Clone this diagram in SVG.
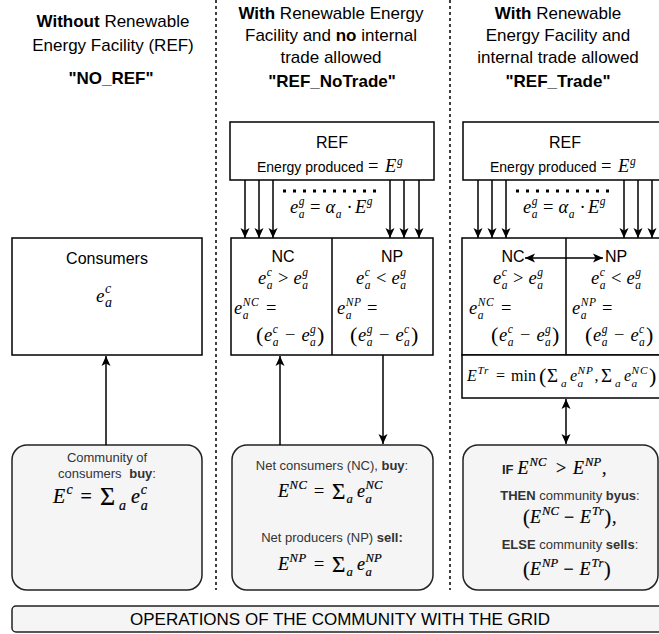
<svg xmlns="http://www.w3.org/2000/svg" width="659" height="634" viewBox="0 0 659 634">
<style>
.hd{font-family:"Liberation Sans",Arial,sans-serif;font-size:17px;text-anchor:middle;fill:#000}
.b{font-weight:bold}
.lbl{font-family:"Liberation Sans",Arial,sans-serif;font-size:16px;text-anchor:middle;fill:#000}
.ban{font-family:"Liberation Sans",Arial,sans-serif;font-size:17px;text-anchor:middle;fill:#000}
.sm{font-family:"Liberation Sans",Arial,sans-serif;font-size:13px;text-anchor:middle;fill:#333}
.ep{font-family:"Liberation Sans",Arial,sans-serif;font-size:14px;fill:#000}
.m{font-family:"Liberation Serif","DejaVu Serif",serif;font-style:italic;font-size:18.5px;fill:#000}
.m2{font-family:"Liberation Serif","DejaVu Serif",serif;font-style:italic;font-size:18px;fill:#000;stroke:#000;stroke-width:0.2}
.m3{font-family:"Liberation Serif","DejaVu Serif",serif;font-style:italic;font-size:20px;fill:#000;stroke:#000;stroke-width:0.2}
.mt{font-family:"Liberation Serif","DejaVu Serif",serif;font-style:italic;font-size:16px;fill:#000}
.u{font-style:normal}
.sc{font-size:11.5px}
.sc2{font-size:12.6px}
.sc3{font-size:14px}
.sct{font-size:11.3px}
.box{fill:#fff;stroke:#000;stroke-width:1.5}
.rbox{fill:#f5f5f5;stroke:#222;stroke-width:1.5}
.ln{stroke:#000;stroke-width:1.5;fill:none}
.dv{stroke:#000;stroke-width:1.5;stroke-dasharray:3 3;fill:none}
.dots{stroke:#000;stroke-width:3;stroke-dasharray:3 7;fill:none}
</style>
<defs>
<marker id="ah" viewBox="0 0 10 10" refX="10" refY="5" markerWidth="10" markerHeight="10" orient="auto-start-reverse" markerUnits="userSpaceOnUse">
<path d="M0,0.5 L10,5 L0,9.5 L2.5,5 Z" fill="#000"/>
</marker>
</defs>

<!-- column dividers -->
<g id="dividers">
<line class="dv" x1="216" y1="0" x2="216" y2="590"/>
<line class="dv" x1="450" y1="0" x2="450" y2="590"/>
</g>

<!-- headers -->
<g id="header-noref">
<text class="hd" x="113" y="27"><tspan class="b">Without</tspan> Renewable</text>
<text class="hd" x="113" y="51">Energy Facility (REF)</text>
<text class="hd b" x="111" y="84">"NO_REF"</text>
</g>
<g id="header-notrade">
<text class="hd" x="331" y="19"><tspan class="b">With</tspan> Renewable Energy</text>
<text class="hd" x="331" y="41">Facility and <tspan class="b">no</tspan> internal</text>
<text class="hd" x="331" y="63">trade allowed</text>
<text class="hd b" x="332" y="87">"REF_NoTrade"</text>
</g>
<g id="header-trade">
<text class="hd" x="558" y="19"><tspan class="b">With</tspan> Renewable</text>
<text class="hd" x="558" y="41">Energy Facility and</text>
<text class="hd" x="558" y="63">internal trade allowed</text>
<text class="hd b" x="558" y="87">"REF_Trade"</text>
</g>

<!-- column 1 -->
<g id="consumers">
<rect class="box" x="12" y="238" width="190" height="117"/>
<text class="lbl" x="107" y="264">Consumers</text>
<text class="m" style="font-size:19px"><tspan x="96" y="302">e</tspan><tspan class="sc3" x="105" y="293">c</tspan><tspan class="sc3" x="105" y="307">a</tspan></text>
</g>
<g id="community-buy">
<rect class="rbox" x="12" y="445" width="190" height="145" rx="15"/>
<text class="sm" x="107" y="462">Community of</text>
<text class="sm" x="107" y="478">consumers <tspan class="b" dx="4">buy</tspan>:</text>
<text class="m3"><tspan x="53" y="503">E</tspan><tspan class="sc3" x="66.5" y="493.5">c</tspan><tspan class="u" x="80.5" y="503">=</tspan><tspan class="u" style="font-size:26px" x="100" y="505">Σ</tspan><tspan class="sc3" x="119" y="509.5">a</tspan><tspan x="131" y="503">e</tspan><tspan class="sc3" x="140.8" y="493.5">c</tspan><tspan class="sc3" x="140.8" y="509.5">a</tspan></text>
</g>

<!-- column 2 -->
<g id="ref-notrade">
<rect class="box" x="230" y="122" width="204" height="58"/>
<text class="lbl" x="332" y="148">REF</text>
<text class="ep" x="257" y="172">Energy produced</text>
<text class="m"><tspan class="u" x="368" y="172">=</tspan><tspan x="385" y="172">E</tspan><tspan class="sc" x="397" y="164.5">g</tspan></text>
<line class="dots" x1="283" y1="191" x2="380" y2="191"/>
<text class="m"><tspan x="290" y="213">e</tspan><tspan class="sc" x="298.7" y="205">g</tspan><tspan class="sc" x="298.7" y="218.2">a</tspan><tspan class="u" x="310.1" y="213">=</tspan><tspan x="325.6" y="213">α</tspan><tspan class="sc" x="335.7" y="218.2">a</tspan><tspan class="u" x="346.4" y="213">·</tspan><tspan x="355.1" y="213">E</tspan><tspan class="sc" x="366.7" y="205">g</tspan></text>
</g>
<g id="ncnp-notrade">
<rect class="box" x="231" y="238" width="202" height="117"/>
<line class="ln" x1="332" y1="238" x2="332" y2="355"/>
<text class="lbl" x="283" y="261.5">NC</text>
<text class="lbl" x="392" y="261.5">NP</text>
<g id="ncnp-formulas">
<text class="m"><tspan x="258" y="283.5">e</tspan><tspan class="sc" x="266.7" y="275.5">c</tspan><tspan class="sc" x="266.7" y="288.7">a</tspan><tspan class="u" x="278.1" y="283.5">&gt;</tspan><tspan x="293.6" y="283.5">e</tspan><tspan class="sc" x="302.3" y="275.5">g</tspan><tspan class="sc" x="302.3" y="288.7">a</tspan></text>
<text class="m"><tspan x="234" y="314">e</tspan><tspan class="sc" x="242.7" y="306">N</tspan><tspan class="sc" x="251" y="306">C</tspan><tspan class="sc" x="242.7" y="319.2">a</tspan><tspan class="u" x="266" y="314">=</tspan></text>
<text class="m"><tspan class="u" style="font-size:22px" x="256" y="342">(</tspan><tspan x="264" y="341">e</tspan><tspan class="sc" x="272.7" y="333">c</tspan><tspan class="sc" x="272.7" y="346.2">a</tspan><tspan class="u" x="285" y="341">−</tspan><tspan x="301.4" y="341">e</tspan><tspan class="sc" x="310.1" y="333">g</tspan><tspan class="sc" x="310.1" y="346.2">a</tspan><tspan class="u" style="font-size:22px" x="317" y="342">)</tspan></text>
<text class="m"><tspan x="356" y="283.5">e</tspan><tspan class="sc" x="364.7" y="275.5">c</tspan><tspan class="sc" x="364.7" y="288.7">a</tspan><tspan class="u" x="376.1" y="283.5">&lt;</tspan><tspan x="391.6" y="283.5">e</tspan><tspan class="sc" x="400.3" y="275.5">g</tspan><tspan class="sc" x="400.3" y="288.7">a</tspan></text>
<text class="m"><tspan x="337" y="314">e</tspan><tspan class="sc" x="345.7" y="306">N</tspan><tspan class="sc" x="354" y="306">P</tspan><tspan class="sc" x="345.7" y="319.2">a</tspan><tspan class="u" x="367" y="314">=</tspan></text>
<text class="m"><tspan class="u" style="font-size:22px" x="350" y="342">(</tspan><tspan x="358" y="341">e</tspan><tspan class="sc" x="366.7" y="333">g</tspan><tspan class="sc" x="366.7" y="346.2">a</tspan><tspan class="u" x="379" y="341">−</tspan><tspan x="395.4" y="341">e</tspan><tspan class="sc" x="404.1" y="333">c</tspan><tspan class="sc" x="404.1" y="346.2">a</tspan><tspan class="u" style="font-size:22px" x="411" y="342">)</tspan></text>
</g>
</g>
<g id="community-notrade">
<rect class="rbox" x="232" y="445" width="201" height="145" rx="15"/>
<text class="sm" x="332" y="470">Net consumers (NC), <tspan class="b">buy</tspan>:</text>
<text class="m2"><tspan x="278" y="497">E</tspan><tspan class="sc2" x="289.5" y="488.5">N</tspan><tspan class="sc2" x="298.5" y="488.5">C</tspan><tspan class="u" x="314" y="497">=</tspan><tspan class="u" style="font-size:23px" x="332" y="499">Σ</tspan><tspan class="sc2" x="346.5" y="502.8">a</tspan><tspan x="357" y="497">e</tspan><tspan class="sc2" x="365.5" y="488.5">N</tspan><tspan class="sc2" x="374" y="488.5">C</tspan><tspan class="sc2" x="365.5" y="502.8">a</tspan></text>
<text class="sm" x="332" y="542">Net producers (NP) <tspan class="b">sell:</tspan></text>
<text class="m2"><tspan x="278" y="570">E</tspan><tspan class="sc2" x="289.5" y="561.5">N</tspan><tspan class="sc2" x="298.5" y="561.5">P</tspan><tspan class="u" x="314" y="570">=</tspan><tspan class="u" style="font-size:23px" x="332" y="572">Σ</tspan><tspan class="sc2" x="346.5" y="575.8">a</tspan><tspan x="357" y="570">e</tspan><tspan class="sc2" x="365.5" y="561.5">N</tspan><tspan class="sc2" x="374" y="561.5">P</tspan><tspan class="sc2" x="365.5" y="575.8">a</tspan></text>
</g>

<!-- column 3 -->
<g id="ref-trade">
<rect class="box" x="463" y="122" width="210" height="58"/>
<g transform="translate(233,0)">
<text class="lbl" x="332" y="148">REF</text>
<text class="ep" x="257" y="172">Energy produced</text>
<text class="m"><tspan class="u" x="368" y="172">=</tspan><tspan x="385" y="172">E</tspan><tspan class="sc" x="397" y="164.5">g</tspan></text>
<line class="dots" x1="283" y1="191" x2="380" y2="191"/>
<text class="m"><tspan x="290" y="213">e</tspan><tspan class="sc" x="298.7" y="205">g</tspan><tspan class="sc" x="298.7" y="218.2">a</tspan><tspan class="u" x="310.1" y="213">=</tspan><tspan x="325.6" y="213">α</tspan><tspan class="sc" x="335.7" y="218.2">a</tspan><tspan class="u" x="346.4" y="213">·</tspan><tspan x="355.1" y="213">E</tspan><tspan class="sc" x="366.7" y="205">g</tspan></text>
</g>
</g>
<g id="ncnp-trade">
<rect class="box" x="462" y="238" width="210" height="117"/>
<line class="ln" x1="566" y1="238" x2="566" y2="355"/>
<text class="lbl" x="513" y="261.5">NC</text>
<text class="lbl" x="616" y="261.5">NP</text>
<g transform="translate(235,0)">
<text class="m"><tspan x="258" y="283.5">e</tspan><tspan class="sc" x="266.7" y="275.5">c</tspan><tspan class="sc" x="266.7" y="288.7">a</tspan><tspan class="u" x="278.1" y="283.5">&gt;</tspan><tspan x="293.6" y="283.5">e</tspan><tspan class="sc" x="302.3" y="275.5">g</tspan><tspan class="sc" x="302.3" y="288.7">a</tspan></text>
<text class="m"><tspan x="234" y="314">e</tspan><tspan class="sc" x="242.7" y="306">N</tspan><tspan class="sc" x="251" y="306">C</tspan><tspan class="sc" x="242.7" y="319.2">a</tspan><tspan class="u" x="266" y="314">=</tspan></text>
<text class="m"><tspan class="u" style="font-size:22px" x="256" y="342">(</tspan><tspan x="264" y="341">e</tspan><tspan class="sc" x="272.7" y="333">c</tspan><tspan class="sc" x="272.7" y="346.2">a</tspan><tspan class="u" x="285" y="341">−</tspan><tspan x="301.4" y="341">e</tspan><tspan class="sc" x="310.1" y="333">g</tspan><tspan class="sc" x="310.1" y="346.2">a</tspan><tspan class="u" style="font-size:22px" x="317" y="342">)</tspan></text>
<text class="m"><tspan x="356" y="283.5">e</tspan><tspan class="sc" x="364.7" y="275.5">c</tspan><tspan class="sc" x="364.7" y="288.7">a</tspan><tspan class="u" x="376.1" y="283.5">&lt;</tspan><tspan x="391.6" y="283.5">e</tspan><tspan class="sc" x="400.3" y="275.5">g</tspan><tspan class="sc" x="400.3" y="288.7">a</tspan></text>
<text class="m"><tspan x="337" y="314">e</tspan><tspan class="sc" x="345.7" y="306">N</tspan><tspan class="sc" x="354" y="306">P</tspan><tspan class="sc" x="345.7" y="319.2">a</tspan><tspan class="u" x="367" y="314">=</tspan></text>
<text class="m"><tspan class="u" style="font-size:22px" x="350" y="342">(</tspan><tspan x="358" y="341">e</tspan><tspan class="sc" x="366.7" y="333">g</tspan><tspan class="sc" x="366.7" y="346.2">a</tspan><tspan class="u" x="379" y="341">−</tspan><tspan x="395.4" y="341">e</tspan><tspan class="sc" x="404.1" y="333">c</tspan><tspan class="sc" x="404.1" y="346.2">a</tspan><tspan class="u" style="font-size:22px" x="411" y="342">)</tspan></text>
</g>
</g>
<g id="trade-amount">
<rect class="box" x="462" y="355" width="210" height="43"/>
<text class="mt"><tspan x="467" y="381">E</tspan><tspan class="sct" x="477.5" y="373.5">T</tspan><tspan class="sct" x="484" y="373.5">r</tspan><tspan class="u" x="496" y="381">=</tspan><tspan class="u" x="511" y="381">min</tspan><tspan class="u" style="font-size:22px" x="539" y="383">(</tspan><tspan class="u" style="font-size:19px" x="547" y="382">Σ</tspan><tspan class="sct" x="561" y="386.8">a</tspan><tspan x="570" y="381">e</tspan><tspan class="sct" x="577.5" y="373.5">N</tspan><tspan class="sct" x="586" y="373.5">P</tspan><tspan class="sct" x="577.5" y="386.8">a</tspan><tspan class="u" x="594.5" y="381">,</tspan><tspan class="u" style="font-size:19px" x="601" y="382">Σ</tspan><tspan class="sct" x="615" y="386.8">a</tspan><tspan x="624" y="381">e</tspan><tspan class="sct" x="631.5" y="373.5">N</tspan><tspan class="sct" x="640" y="373.5">C</tspan><tspan class="sct" x="631.5" y="386.8">a</tspan><tspan class="u" style="font-size:22px" x="649" y="383">)</tspan></text>
</g>
<g id="community-trade">
<rect class="rbox" x="463" y="445" width="195" height="145" rx="15"/>
<text class="m2"><tspan class="u b" style="font-family:'Liberation Sans',Arial,sans-serif;font-size:13px;stroke:none;fill:#222" x="502" y="474">IF</tspan><tspan x="517.5" y="474">E</tspan><tspan class="sc2" x="529.5" y="465.5">N</tspan><tspan class="sc2" x="538" y="465.5">C</tspan><tspan class="u" x="556" y="474">&gt;</tspan><tspan x="573" y="474">E</tspan><tspan class="sc2" x="585" y="465.5">N</tspan><tspan class="sc2" x="593.5" y="465.5">P</tspan><tspan class="u" x="602" y="474">,</tspan></text>
<text class="sm" x="570" y="500"><tspan class="b">THEN</tspan> community <tspan class="b">byus</tspan>:</text>
<text class="m2"><tspan class="u" style="font-size:20px" x="523" y="524">(</tspan><tspan x="530" y="523">E</tspan><tspan class="sc2" x="542" y="514.5">N</tspan><tspan class="sc2" x="550.5" y="514.5">C</tspan><tspan class="u" x="564" y="523">−</tspan><tspan x="580" y="523">E</tspan><tspan class="sc2" x="592" y="514.5">T</tspan><tspan class="sc2" x="599" y="514.5">r</tspan><tspan class="u" style="font-size:20px" x="604.5" y="524">)</tspan><tspan class="u" x="612" y="523">,</tspan></text>
<text class="sm" x="570" y="549"><tspan class="b">ELSE</tspan> community <tspan class="b">sells</tspan>:</text>
<text class="m2"><tspan class="u" style="font-size:20px" x="523" y="576">(</tspan><tspan x="530" y="575">E</tspan><tspan class="sc2" x="542" y="566.5">N</tspan><tspan class="sc2" x="550.5" y="566.5">P</tspan><tspan class="u" x="563.5" y="575">−</tspan><tspan x="579.5" y="575">E</tspan><tspan class="sc2" x="591.5" y="566.5">T</tspan><tspan class="sc2" x="598.5" y="566.5">r</tspan><tspan class="u" style="font-size:20px" x="604" y="576">)</tspan></text>
</g>

<!-- bottom banner -->
<g id="grid-banner">
<rect class="rbox" x="12" y="606" width="660" height="26" rx="4"/>
<text class="ban" x="340" y="625">OPERATIONS OF THE COMMUNITY WITH THE GRID</text>
</g>

<!-- connectors -->
<g id="connectors" class="ln">
<line x1="245" y1="180" x2="245" y2="238" marker-end="url(#ah)"/>
<line x1="259" y1="180" x2="259" y2="238" marker-end="url(#ah)"/>
<line x1="273" y1="180" x2="273" y2="238" marker-end="url(#ah)"/>
<line x1="390" y1="180" x2="390" y2="238" marker-end="url(#ah)"/>
<line x1="404" y1="180" x2="404" y2="238" marker-end="url(#ah)"/>
<line x1="419" y1="180" x2="419" y2="238" marker-end="url(#ah)"/>
<line x1="478" y1="180" x2="478" y2="238" marker-end="url(#ah)"/>
<line x1="492" y1="180" x2="492" y2="238" marker-end="url(#ah)"/>
<line x1="506" y1="180" x2="506" y2="238" marker-end="url(#ah)"/>
<line x1="624" y1="180" x2="624" y2="238" marker-end="url(#ah)"/>
<line x1="638" y1="180" x2="638" y2="238" marker-end="url(#ah)"/>
<line x1="652" y1="180" x2="652" y2="238" marker-end="url(#ah)"/>
<line x1="106" y1="445" x2="106" y2="356" marker-end="url(#ah)"/>
<line x1="280" y1="445" x2="280" y2="356" marker-end="url(#ah)"/>
<line x1="383" y1="355" x2="383" y2="444" marker-end="url(#ah)"/>
<line x1="566" y1="399" x2="566" y2="444" marker-start="url(#ah)" marker-end="url(#ah)"/>
<line x1="525" y1="258" x2="603" y2="258" marker-start="url(#ah)" marker-end="url(#ah)"/>
</g>
</svg>
